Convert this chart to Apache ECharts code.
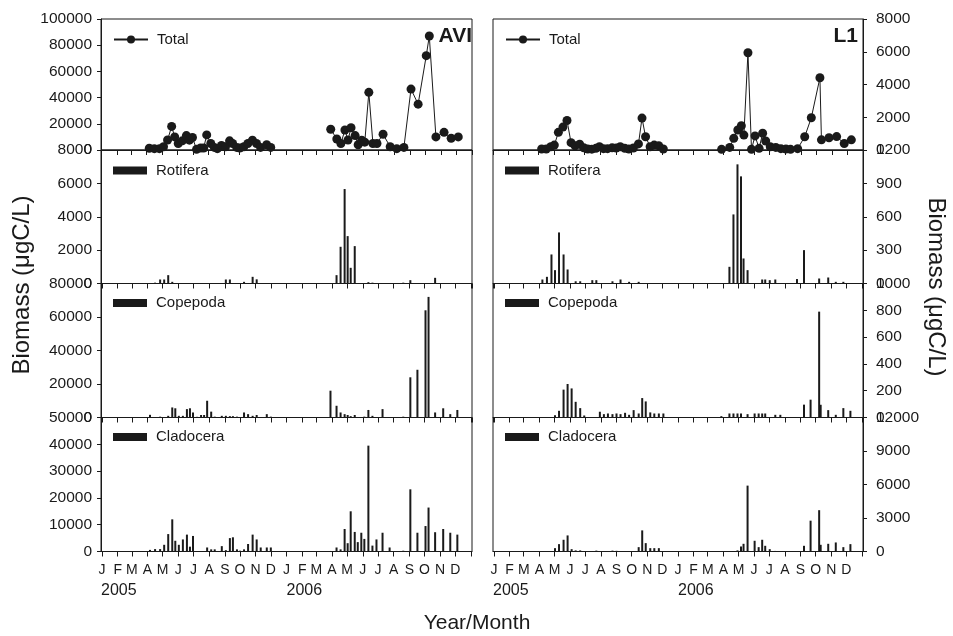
<!DOCTYPE html>
<html>
<head>
<meta charset="utf-8">
<script src="https://cdn.jsdelivr.net/npm/echarts@6/dist/echarts.min.js"></script>
<style>
html, body { margin: 0; padding: 0; background: #fff; }
#main { width: 953px; height: 636px; }
</style>
</head>
<body>
<div id="main"></div>
<script>
// sampling dates and biomass (ugC/L), site AVI
var aviDates = [
  '2005-04-06','2005-04-16','2005-04-26','2005-05-04','2005-05-12','2005-05-20','2005-05-26','2005-06-02',
  '2005-06-10','2005-06-18','2005-06-24','2005-06-30','2005-07-08','2005-07-16','2005-07-22','2005-07-28',
  '2005-08-05','2005-08-12','2005-08-18','2005-08-26','2005-09-03','2005-09-11','2005-09-17','2005-09-25',
  '2005-10-01','2005-10-09','2005-10-17','2005-10-26','2005-11-03','2005-11-11','2005-11-23','2005-12-01',
  '2006-03-29','2006-04-10','2006-04-18','2006-04-26','2006-05-02','2006-05-08','2006-05-16','2006-05-22',
  '2006-05-29','2006-06-04','2006-06-12','2006-06-20','2006-06-28','2006-07-10','2006-07-24','2006-08-06',
  '2006-08-20','2006-09-03','2006-09-17','2006-10-03','2006-10-09','2006-10-22','2006-11-07','2006-11-21',
  '2006-12-05'
];
var aviTotal = [
  1300,1000,1000,2500,7600,18000,10000,5000,7000,11000,7500,9500,500,1500,1500,11500,
  5000,2000,1000,3500,2500,7000,5000,2000,1500,2500,5000,7500,5000,2000,4000,2000,
  15800,8400,5000,15300,7600,17000,11000,4000,7500,6000,44000,5000,5000,12000,2500,1000,
  2000,46500,35000,72000,87000,10000,13500,9000,10000
];
var aviRotifera = [
  0,50,240,240,500,100,0,0,0,0,0,0,0,0,0,0,
  0,0,0,0,240,240,0,0,0,100,0,400,250,0,0,0,
  0,500,2200,5660,2840,940,2240,0,0,0,80,50,0,30,0,0,
  50,200,0,0,0,340,0,0,0
];
var aviCopepoda = [
  1600,0,500,300,1000,6000,5500,1000,1000,5000,5500,3000,400,1500,1500,10000,
  3500,500,300,1000,1000,800,800,500,300,3000,2000,1000,1500,300,2000,500,
  16000,7000,3000,2000,1500,800,1500,300,0,500,4500,1000,300,5000,300,200,
  500,24000,28500,64000,72000,3000,5500,2000,4500
];
var aviCladocera = [
  600,900,900,2500,6500,12000,4000,2500,4500,6300,1800,5800,0,0,0,1500,
  800,800,0,2000,500,5000,5300,800,300,800,2800,6300,4500,1500,1500,1500,
  200,1500,800,8400,3100,15000,7300,3500,7000,4700,39500,2200,4500,7000,1500,0,
  300,23200,7000,9500,16400,7200,8400,7000,6300
];

// sampling dates and biomass (ugC/L), site L1
var l1Dates = [
  '2005-04-07','2005-04-16','2005-04-25','2005-05-02','2005-05-10','2005-05-19','2005-05-27','2005-06-04',
  '2005-06-12','2005-06-21','2005-06-29','2005-07-07','2005-07-15','2005-07-23','2005-07-30','2005-08-07',
  '2005-08-15','2005-08-24','2005-09-01','2005-09-09','2005-09-18','2005-09-26','2005-10-05','2005-10-15',
  '2005-10-22','2005-10-29','2005-11-07','2005-11-15','2005-11-24','2005-12-03',
  '2006-03-28','2006-04-13','2006-04-21','2006-04-29','2006-05-06','2006-05-11','2006-05-19','2006-05-26',
  '2006-06-02','2006-06-10','2006-06-17','2006-06-23','2006-07-02','2006-07-13','2006-07-23','2006-08-02',
  '2006-08-11','2006-08-25','2006-09-08','2006-09-21','2006-10-08','2006-10-11','2006-10-26','2006-11-10',
  '2006-11-25','2006-12-09'
];
var l1Total = [
  60,60,200,300,1080,1400,1800,450,260,350,140,60,50,100,200,80,
  80,130,120,200,100,60,120,370,1950,810,200,300,260,60,
  40,160,710,1220,1480,910,5940,40,860,100,1020,550,200,160,80,60,
  40,80,810,1970,4410,620,750,820,400,620
];
var l1Rotifera = [
  36,60,261,120,459,261,126,0,20,20,0,0,30,30,0,0,
  0,20,0,36,0,15,0,15,0,0,0,0,0,0,
  0,150,621,1071,963,225,120,0,0,0,36,36,30,36,0,0,
  0,40,300,0,45,0,54,15,15,0
];
var l1Copepoda = [
  0,0,0,17,50,208,250,217,117,70,15,0,0,0,43,25,
  30,25,30,25,35,20,55,30,145,120,38,30,30,30,
  10,30,30,30,30,0,25,0,30,30,30,30,0,20,20,0,
  0,0,96,133,790,95,55,20,70,50
];
var l1Cladocera = [
  20,0,0,300,660,1050,1440,210,100,100,0,0,0,80,0,0,
  0,80,60,0,0,0,0,390,1890,750,300,300,300,0,
  0,0,20,100,450,690,5900,0,960,390,1050,510,210,50,0,0,
  0,0,510,2760,3700,600,690,810,390,660
];

// y axis tops and tick steps per panel (Total, Rotifera, Copepoda, Cladocera)
var aviMax  = [100000, 8000, 80000, 50000];
var aviStep = [20000, 2000, 20000, 10000];
var l1Max   = [8000, 1200, 1000, 12000];
var l1Step  = [2000, 300, 200, 3000];

var groups = ['Total', 'Rotifera', 'Copepoda', 'Cladocera'];
var monthLetters = ['J','F','M','A','M','J','J','A','S','O','N','D'];

var ink = '#1a1a1a';
var font = '"Liberation Sans", Arial, sans-serif';
var DAY = 24 * 3600 * 1000;

var myChart = echarts.init(document.getElementById('main'));

var sites = [
  { label: 'AVI', left: 101, width: 371, side: 'left', dates: aviDates,
    values: [aviTotal, aviRotifera, aviCopepoda, aviCladocera], max: aviMax, step: aviStep },
  { label: 'L1', left: 493, width: 370, side: 'right', dates: l1Dates,
    values: [l1Total, l1Rotifera, l1Copepoda, l1Cladocera], max: l1Max, step: l1Step }
];
var rowTop = [19, 150, 283.5, 417.5];
var rowHeight = [131, 133.5, 134, 134];
var legendMid = [40, 171, 303.5, 437.5];

var grids = [], xAxes = [], yAxes = [], series = [], legends = [];

function pairs(dates, vals, year) {
  var out = [];
  for (var i = 0; i < dates.length; i++) {
    if (year && dates[i].slice(0, 4) !== year) continue;
    out.push([dates[i], vals[i]]);
  }
  return out;
}

sites.forEach(function (s) {
  for (var r = 0; r < 4; r++) {
    var gi = grids.length;
    grids.push({
      left: s.left, top: rowTop[r], width: s.width, height: rowHeight[r],
      show: true, borderColor: ink, borderWidth: 1, containLabel: false
    });
    var xi = xAxes.length;
    xAxes.push({
      type: 'time', gridIndex: gi, position: 'bottom', min: '2005-01-01', max: '2007-01-01',
      minInterval: 28 * DAY, maxInterval: 31 * DAY,
      axisLine: { show: true, lineStyle: { color: ink, width: 1 } },
      axisTick: { show: true, inside: false, length: 5, lineStyle: { color: ink } },
      splitLine: { show: false },
      axisLabel: {
        show: r === 3, margin: 12, fontSize: 14, color: ink, fontFamily: font,
        showMaxLabel: false,
        formatter: function (v) {
          var d = new Date(v);
          if (d.getFullYear() > 2006) return '';
          return monthLetters[d.getMonth()];
        }
      }
    });
    if (r === 3) {
      // second axis on the bottom panel just for the year labels
      xAxes.push({
        type: 'time', gridIndex: gi, position: 'bottom', offset: 0,
        min: '2005-01-01', max: '2007-01-01',
        minInterval: 28 * DAY, maxInterval: 31 * DAY,
        axisLine: { show: false }, axisTick: { show: false }, splitLine: { show: false },
        axisLabel: {
          margin: 31, fontSize: 16, color: ink, fontFamily: font, align: 'left',
          showMaxLabel: false,
          formatter: function (v) {
            var d = new Date(v);
            return (d.getMonth() === 0 && d.getFullYear() < 2007) ? String(d.getFullYear()) : '';
          }
        }
      });
    }
    yAxes.push({
      type: 'value', gridIndex: gi, position: s.side,
      min: 0, max: s.max[r], interval: s.step[r],
      axisLine: { show: true, lineStyle: { color: ink, width: 1 } },
      axisTick: { show: true, inside: false, length: 4, lineStyle: { color: ink } },
      splitLine: { show: false },
      axisLabel: {
        fontSize: 15.5, color: ink, fontFamily: font,
        margin: s.side === 'left' ? 9 : 13,
        showMinLabel: true, showMaxLabel: true,
        formatter: function (v) { return String(v); }
      }
    });

    var name = groups[r];
    if (r === 0) {
      ['2005', '2006'].forEach(function (yr) {
        series.push({
          type: 'line', name: name, xAxisIndex: xi, yAxisIndex: gi,
          data: pairs(s.dates, s.values[0], yr),
          symbol: 'circle', symbolSize: 9,
          itemStyle: { color: ink },
          lineStyle: { color: ink, width: 1 },
          animation: false
        });
      });
    } else {
      series.push({
        type: 'bar', name: name, xAxisIndex: xi, yAxisIndex: gi,
        data: pairs(s.dates, s.values[r]),
        barWidth: 2,
        itemStyle: { color: ink },
        animation: false
      });
    }

    legends.push({
      left: s.left + 12, top: legendMid[r] - 8, padding: 0,
      data: r === 0 ? [name] : [{ name: name, icon: 'rect' }], selectedMode: false,
      itemWidth: 34, itemHeight: r === 0 ? 10 : 8,
      textStyle: { fontSize: 15, color: ink, fontFamily: font, padding: [0, 0, 0, 4] }
    });
  }
});

option = {
  backgroundColor: '#fff',
  animation: false,
  title: [
    { text: 'AVI', right: 953 - 472, top: 26, padding: 0,
      textStyle: { fontSize: 21, fontWeight: 'bold', color: ink, fontFamily: font } },
    { text: 'L1', right: 953 - 858, top: 26, padding: 0,
      textStyle: { fontSize: 21, fontWeight: 'bold', color: ink, fontFamily: font } }
  ],
  legend: legends,
  grid: grids,
  xAxis: xAxes,
  yAxis: yAxes,
  series: series,
  graphic: [
    { type: 'text', x: 22, y: 285, rotation: Math.PI / 2,
      style: { text: 'Biomass (\u03bcgC/L)', fontSize: 24, fill: ink, fontFamily: font,
               align: 'center', verticalAlign: 'middle' } },
    { type: 'text', x: 936, y: 287, rotation: -Math.PI / 2,
      style: { text: 'Biomass (\u03bcgC/L)', fontSize: 24, fill: ink, fontFamily: font,
               align: 'center', verticalAlign: 'middle' } },
    { type: 'text', x: 477, y: 623,
      style: { text: 'Year/Month', fontSize: 21, fill: ink, fontFamily: font,
               align: 'center', verticalAlign: 'middle' } }
  ]
};
myChart.setOption(option);
</script>
</body>
</html>
